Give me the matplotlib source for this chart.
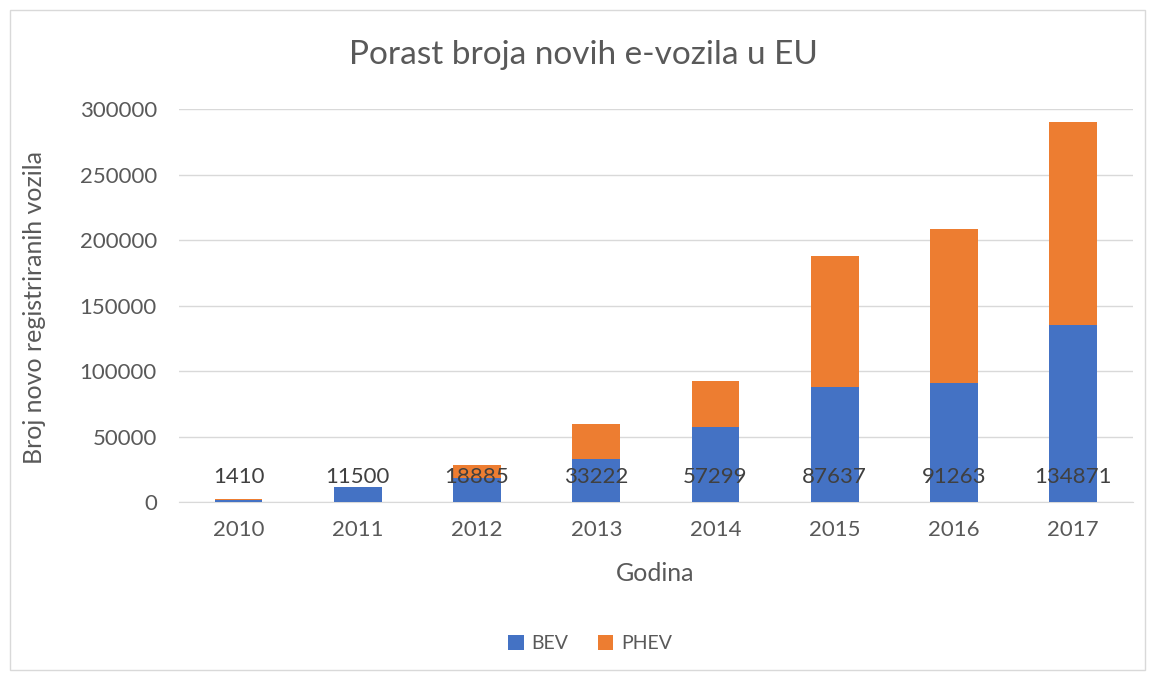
import matplotlib.pyplot as plt
from matplotlib.patches import Rectangle

plt.rcParams['font.family'] = ['Lato', 'DejaVu Sans']

godine = ['2010', '2011', '2012', '2013', '2014', '2015', '2016', '2017']
bev = [1410, 11500, 18885, 33222, 57299, 87637, 91263, 134871]
phev = [1000, 400, 9300, 26200, 35100, 99900, 117500, 155200]

plave = '#4472C4'
narancasta = '#ED7D31'
siva = '#595959'

fig = plt.figure(figsize=(11.55, 6.75), dpi=100)
fig.patches.append(Rectangle((0.009, 0.007), 0.982, 0.978, transform=fig.transFigure,
                             fill=False, edgecolor='#D9D9D9', lw=1))
ax = fig.add_axes([0.155, 0.2559, 0.8257, 0.5826])

x = range(len(godine))
ax.bar(x, bev, width=0.4, color=plave, label='BEV', zorder=3)
ax.bar(x, phev, width=0.4, bottom=bev, color=narancasta, label='PHEV', zorder=3)

# labels all sit at the same height like in the original
for i, v in enumerate(bev):
    ax.text(i, 19000, str(v), ha='center', va='center', fontsize=16, color='#404040', zorder=4)

ax.set_xlim(-0.5, len(godine) - 0.5)
ax.set_ylim(0, 300000)
ax.set_yticks(range(0, 300001, 50000))
ax.set_xticks(list(x))
ax.set_xticklabels(godine)
ax.yaxis.grid(True, color='#D9D9D9', lw=1, zorder=0)
for s in ['top', 'right', 'left']:
    ax.spines[s].set_visible(False)
ax.spines['bottom'].set_color('#D9D9D9')
ax.tick_params(axis='both', length=0, labelsize=16, colors=siva)
ax.tick_params(axis='y', pad=16)
ax.tick_params(axis='x', pad=13)

fig.text(0.505, 0.918, 'Porast broja novih e-vozila u EU', fontsize=24, color=siva,
         ha='center', va='center')
fig.text(0.5675, 0.150, 'Godina', fontsize=18, color=siva, ha='center', va='center')
fig.text(0.030, 0.545, 'Broj novo registriranih vozila', fontsize=18, color=siva,
         ha='center', va='center', rotation=90)

fig.legend(loc='center', bbox_to_anchor=(0.511, 0.047), ncol=2, frameon=False,
           fontsize=14, labelcolor=siva, handlelength=0.8, handleheight=0.8,
           columnspacing=1.5, handletextpad=0.4)

plt.savefig('out.png', dpi=100)
